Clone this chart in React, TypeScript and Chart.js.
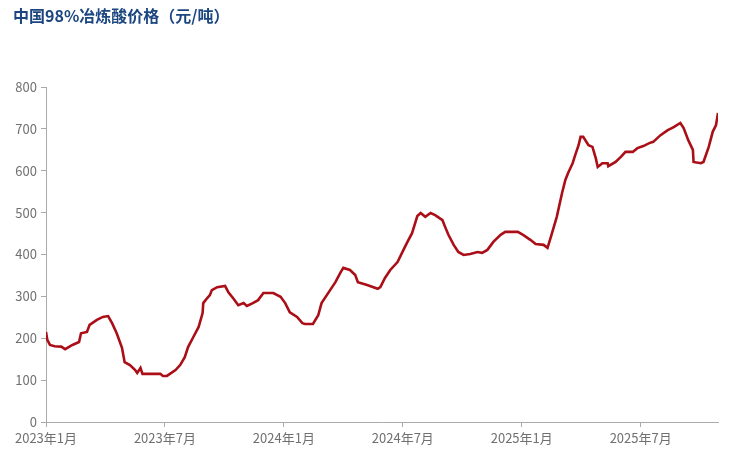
import React, { useEffect, useRef } from "react";
import { Chart, registerables } from "chart.js";

Chart.register(...registerables);

const titleText = "中国98%冶炼酸价格（元/吨）";

const xTickLabels = ["2023年1月", "2023年7月", "2024年1月", "2024年7月", "2025年1月", "2025年7月"];
const xTickMonths = [0, 6, 12, 18, 24, 30];

const dates = [
  "2023-01-01", "2023-01-03", "2023-01-07", "2023-01-14", "2023-01-24", "2023-01-30",
  "2023-02-11", "2023-02-21", "2023-02-24", "2023-03-03", "2023-03-07", "2023-03-18",
  "2023-03-27", "2023-04-05", "2023-04-11", "2023-04-18", "2023-04-26", "2023-04-30",
  "2023-05-08", "2023-05-16", "2023-05-19", "2023-05-24", "2023-05-27", "2023-06-04",
  "2023-06-24", "2023-06-28", "2023-07-04", "2023-07-17", "2023-07-24", "2023-08-01",
  "2023-08-06", "2023-08-14", "2023-08-22", "2023-08-28", "2023-08-29", "2023-09-05",
  "2023-09-09", "2023-09-12", "2023-09-20", "2023-10-02", "2023-10-07", "2023-10-14",
  "2023-10-22", "2023-10-30", "2023-11-05", "2023-11-14", "2023-11-22", "2023-11-30",
  "2023-12-15", "2023-12-26", "2024-01-03", "2024-01-10", "2024-01-21", "2024-01-29",
  "2024-02-03", "2024-02-15", "2024-02-23", "2024-02-28", "2024-03-11", "2024-03-19",
  "2024-03-27", "2024-04-01", "2024-04-11", "2024-04-19", "2024-04-23", "2024-05-07",
  "2024-05-23", "2024-05-27", "2024-06-04", "2024-06-12", "2024-06-23", "2024-07-02",
  "2024-07-08", "2024-07-15", "2024-07-23", "2024-07-28", "2024-08-05", "2024-08-13",
  "2024-08-20", "2024-09-01", "2024-09-05", "2024-09-10", "2024-09-18", "2024-09-25",
  "2024-10-03", "2024-10-13", "2024-10-24", "2024-11-01", "2024-11-09", "2024-11-18",
  "2024-11-29", "2024-12-06", "2024-12-25", "2025-01-03", "2025-01-14", "2025-01-22",
  "2025-02-04", "2025-02-10", "2025-02-16", "2025-02-24", "2025-03-02", "2025-03-07",
  "2025-03-11", "2025-03-18", "2025-03-22", "2025-03-27", "2025-03-30", "2025-04-04",
  "2025-04-12", "2025-04-18", "2025-04-23", "2025-04-26", "2025-05-03", "2025-05-11",
  "2025-05-12", "2025-05-23", "2025-05-31", "2025-06-08", "2025-06-19", "2025-06-26",
  "2025-07-05", "2025-07-14", "2025-07-20", "2025-08-01", "2025-08-12", "2025-08-21",
  "2025-08-31", "2025-09-06", "2025-09-13", "2025-09-20", "2025-09-21", "2025-10-02",
  "2025-10-06", "2025-10-14", "2025-10-20", "2025-10-25", "2025-10-28",
];

const prices = [
  215, 196, 184, 181, 180, 174,
  184, 191, 212, 215, 232, 244,
  251, 253, 236, 212, 177, 143,
  136, 124, 117, 129, 115, 115,
  115, 110, 110, 124, 136, 155,
  179, 203, 227, 260, 284, 296,
  303, 315, 322, 325, 310, 296,
  279, 284, 277, 284, 291, 308,
  308, 299, 284, 262, 251, 236,
  234, 234, 255, 284, 315, 334,
  358, 368, 363, 351, 334, 327,
  318, 322, 344, 363, 382, 411,
  430, 451, 492, 499, 490, 499,
  494, 482, 466, 447, 423, 406,
  399, 401, 406, 404, 411, 430,
  447, 454, 454, 447, 435, 425,
  423, 416, 447, 490, 547, 578,
  594, 618, 638, 661, 681, 681,
  661, 657, 630, 609, 618, 618,
  611, 621, 633, 645, 645, 654,
  659, 666, 669, 685, 697, 704,
  714, 702, 673, 650, 621, 618,
  621, 657, 693, 709, 738,
];

const yTicks = [0, 100, 200, 300, 400, 500, 600, 700, 800];

function monthPos(d: string): number {
  const [y, m, day] = d.split("-").map(Number);
  return (y - 2023) * 12 + (m - 1) + (day - 1) / 30;
}

const FONT = '"Noto Sans CJK SC", "Noto Sans", sans-serif';

export default function App() {
  const ref = useRef<HTMLCanvasElement | null>(null);

  useEffect(() => {
    document.body.style.margin = "0";
    if (!ref.current) return;
    const points = dates.map((d, i) => ({ x: monthPos(d), y: prices[i] }));
    const xMax = points[points.length - 1].x;
    const chart = new Chart(ref.current, {
      type: "line",
      data: {
        datasets: [
          {
            data: points,
            borderColor: "#aa0f18",
            borderWidth: 2.6,
            pointRadius: 0,
            tension: 0,
            fill: false,
          },
        ],
      },
      options: {
        animation: false,
        responsive: true,
        maintainAspectRatio: false,
        layout: { padding: { top: 87, right: 38, bottom: 0, left: 0 } },
        plugins: { legend: { display: false }, tooltip: { enabled: false }, title: { display: false } },
        scales: {
          x: {
            type: "linear",
            min: 0,
            max: xMax,
            afterBuildTicks: (scale: any) => {
              scale.ticks = xTickMonths.map((v) => ({ value: v }));
            },
            afterFit: (scale: any) => {
              scale.height = 51;
            },
            ticks: {
              autoSkip: false,
              maxRotation: 0,
              color: "#707070",
              padding: 3,
              font: { family: FONT, size: 13 },
              callback: (v: any) => {
                const i = xTickMonths.indexOf(Number(v));
                return i >= 0 ? xTickLabels[i] : "";
              },
            },
            grid: { drawOnChartArea: false, drawTicks: true, tickLength: 5, color: "#aaa" },
            border: { display: true, color: "#aaa", width: 1 },
          },
          y: {
            min: 0,
            max: 800,
            afterBuildTicks: (scale: any) => {
              scale.ticks = yTicks.map((v) => ({ value: v }));
            },
            afterFit: (scale: any) => {
              scale.width = 46;
            },
            ticks: {
              color: "#707070",
              padding: 4,
              font: { family: FONT, size: 13 },
            },
            grid: { drawOnChartArea: false, drawTicks: true, tickLength: 5, color: "#aaa" },
            border: { display: true, color: "#aaa", width: 1 },
          },
        },
      },
    });
    return () => chart.destroy();
  }, []);

  return (
    <div style={{ position: "fixed", left: 0, top: 0, width: 756, height: 473, background: "#fff" }}>
      <div
        style={{
          position: "absolute",
          left: 13,
          top: 7,
          fontFamily: FONT,
          fontWeight: 700,
          fontSize: 16,
          lineHeight: "17px",
          color: "#1b4680",
          whiteSpace: "nowrap",
        }}
      >
        {titleText}
      </div>
      <canvas ref={ref} width={756} height={473} />
    </div>
  );
}
